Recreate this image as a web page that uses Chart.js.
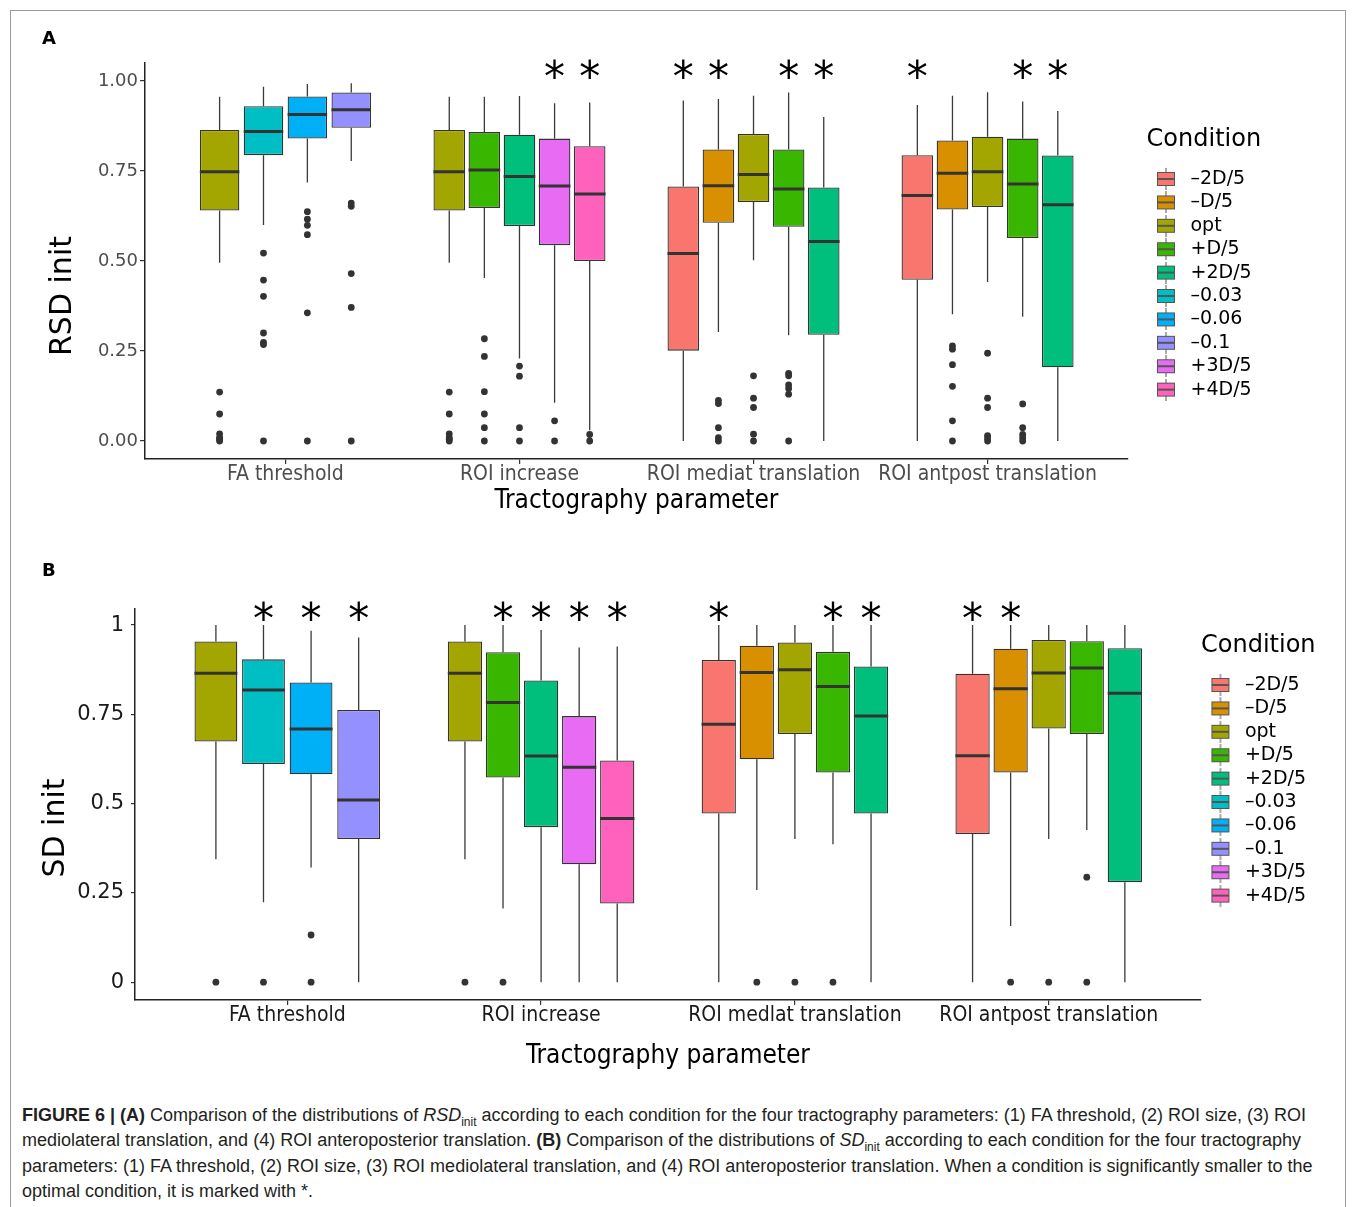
<!DOCTYPE html>
<html>
<head>
<meta charset="utf-8">
<script src="https://cdn.jsdelivr.net/npm/chart.js@4.4.1/dist/chart.umd.min.js"></script>
<style>
  html, body { margin: 0; padding: 0; background: #fff; }
  body { width: 1357px; height: 1207px; position: relative; overflow: hidden; }
  #frame { position: absolute; left: 10px; top: 10px; width: 1334px; height: 1230px; border: 1px solid #9a9a9a; }
  .tag { position: absolute; left: 42px; font: bold 18px 'DejaVu Sans', sans-serif; color: #000; z-index: 2; }
  canvas { position: absolute; left: 0; z-index: 1; }
  #caption { position: absolute; left: 22px; top: 1103px; font: 18px 'Liberation Sans', Arial, sans-serif;
             line-height: 25.3px; color: #231f20; white-space: nowrap; z-index: 2; }
  #caption sub { font-size: 12px; line-height: 0; }
</style>
</head>
<body>
<div id="frame"></div>
<div class="tag" style="top:27px">A</div>
<div class="tag" style="top:559px">B</div>
<canvas id="rsd" width="1357" height="530" style="top:0"></canvas>
<canvas id="sd" width="1357" height="545" style="top:530px"></canvas>
<div id="caption">
<b>FIGURE 6 | (A)</b> Comparison of the distributions of <i>RSD</i><sub>init</sub> according to each condition for the four tractography parameters: (1) FA threshold, (2) ROI size, (3) ROI<br>
mediolateral translation, and (4) ROI anteroposterior translation. <b>(B)</b> Comparison of the distributions of <i>SD</i><sub>init</sub> according to each condition for the four tractography<br>
parameters: (1) FA threshold, (2) ROI size, (3) ROI mediolateral translation, and (4) ROI anteroposterior translation. When a condition is significantly smaller to the<br>
optimal condition, it is marked with *.
</div>
<script>
const paramsRSD = ['FA threshold', 'ROI increase', 'ROI mediat translation', 'ROI antpost translation'];
const paramsSD = ['FA threshold', 'ROI increase', 'ROI medlat translation', 'ROI antpost translation'];
const conditions = ['–2D/5', '–D/5', 'opt', '+D/5', '+2D/5', '–0.03', '–0.06', '–0.1', '+3D/5', '+4D/5'];
const colors = ['#F8766D', '#D89000', '#A3A500', '#39B600', '#00BF7D', '#00BFC4', '#00B0F6', '#9590FF', '#E76BF3', '#FF62BC'];

// one [lower whisker, Q1, median, Q3, upper whisker] per parameter, null = condition not used
const rsdBoxes = [
  [null, null, [0, 0.251, 0.521, 0.707, 0.946], [0, 0.448, 0.682, 0.794, 0.933]],
  [null, null, [0.303, 0.606, 0.709, 0.810, 0.950], [0.352, 0.643, 0.744, 0.835, 0.959]],
  [[0.495, 0.640, 0.748, 0.864, 0.956], [0.495, 0.640, 0.748, 0.864, 0.956], [0.502, 0.664, 0.740, 0.853, 0.959], [0.442, 0.650, 0.748, 0.845, 0.969]],
  [null, [0.453, 0.647, 0.753, 0.858, 0.956], [0.294, 0.595, 0.700, 0.810, 0.968], [0.345, 0.564, 0.714, 0.840, 0.943]],
  [null, [0.229, 0.597, 0.735, 0.851, 0.958], [0, 0.295, 0.554, 0.704, 0.900], [0, 0.205, 0.656, 0.793, 0.917]],
  [[0.600, 0.794, 0.860, 0.930, 0.984], null, null, null],
  [[0.718, 0.840, 0.907, 0.957, 0.992], null, null, null],
  [[0.778, 0.870, 0.920, 0.968, 0.994], null, null, null],
  [null, [0.106, 0.544, 0.708, 0.840, 0.938], null, null],
  [null, [0.030, 0.500, 0.686, 0.819, 0.940], null, null]
];
const rsdOutliers = [
  [[], [], [], []],
  [[], [], [0.113, 0.104, 0.037, 0.009, 0], [0.264, 0.255, 0.212, 0.152, 0.056, 0]],
  [[0.136, 0.075, 0.020, 0.010, 0.005, 0], [0.136, 0.075, 0.020, 0.010, 0.005, 0], [0.181, 0.119, 0.093, 0.019, 0], [0.244, 0.119, 0.093, 0.015, 0.008, 0]],
  [[], [0.284, 0.235, 0.137, 0.075, 0.037, 0], [0.188, 0.181, 0.156, 0.146, 0.130, 0], [0.103, 0.037, 0.018, 0.009, 0]],
  [[], [0.208, 0.180, 0.037, 0], [], []],
  [[0.522, 0.447, 0.402, 0.300, 0.274, 0.268, 0], [], [], []],
  [[0.637, 0.616, 0.599, 0.573, 0.356, 0], [], [], []],
  [[0.661, 0.652, 0.465, 0.371, 0], [], [], []],
  [[], [0.056, 0], [], []],
  [[], [0.018, 0], [], []]
];
const rsdStars = [[], [8, 9], [0, 1, 3, 4], [0, 3, 4]];

const sdBoxes = [
  [null, null, [0, 0.472, 0.722, 0.902, 1], [0, 0.415, 0.634, 0.864, 1]],
  [null, null, [0.258, 0.624, 0.867, 0.942, 1], [0.157, 0.587, 0.822, 0.934, 1]],
  [[0.344, 0.674, 0.865, 0.954, 1], [0.344, 0.674, 0.865, 0.954, 1], [0.401, 0.695, 0.875, 0.951, 1], [0.401, 0.710, 0.866, 0.958, 1]],
  [null, [0.206, 0.573, 0.783, 0.924, 1], [0.386, 0.587, 0.828, 0.925, 1], [0.426, 0.695, 0.880, 0.955, 1]],
  [null, [0, 0.434, 0.633, 0.845, 0.986], [0, 0.472, 0.745, 0.884, 1], [0, 0.280, 0.809, 0.935, 1]],
  [[0.224, 0.611, 0.818, 0.904, 1], null, null, null],
  [[0.321, 0.582, 0.709, 0.839, 0.984], null, null, null],
  [[0, 0.401, 0.510, 0.762, 0.965], null, null, null],
  [null, [0, 0.330, 0.602, 0.745, 0.937], null, null],
  [null, [0, 0.220, 0.458, 0.621, 0.940], null, null]
];
const sdOutliers = [
  [[], [], [], []],
  [[], [], [0], [0]],
  [[0], [0], [0], [0]],
  [[], [0], [0], [0.294, 0]],
  [[], [], [], []],
  [[0], [], [], []],
  [[0.132, 0], [], [], []],
  [[], [], [], []],
  [[], [], [], []],
  [[], [], [], []]
];
const sdStars = [[5, 6, 7], [3, 4, 8, 9], [0, 3, 4], [0, 1]];

const yTicks = [0, 0.25, 0.5, 0.75, 1];
const yLabelsRSD = ['0.00', '0.25', '0.50', '0.75', '1.00'];
const yLabelsSD = ['0', '0.25', '0.5', '0.75', '1'];

Chart.defaults.font.family = "'DejaVu Sans', sans-serif";

// whiskers, medians, outlier dots and significance stars on top of the floating bars
const boxParts = {
  id: 'boxParts',
  beforeDatasetsDraw(chart, args, o) {
    const {ctx} = chart;
    const y = chart.scales.y;
    ctx.save();
    ctx.strokeStyle = '#3a3a3a';
    ctx.lineWidth = 1.3;
    o.boxes.forEach((cond, i) => {
      const bars = chart.getDatasetMeta(i).data;
      cond.forEach((b, j) => {
        if (!b) return;
        const x = bars[j].x;
        ctx.beginPath();
        ctx.moveTo(x, y.getPixelForValue(b[0]));
        ctx.lineTo(x, y.getPixelForValue(b[1]));
        ctx.moveTo(x, y.getPixelForValue(b[3]));
        ctx.lineTo(x, y.getPixelForValue(b[4]));
        ctx.stroke();
      });
    });
    ctx.restore();
  },
  afterDatasetsDraw(chart, args, o) {
    const {ctx} = chart;
    const y = chart.scales.y;
    ctx.save();
    o.boxes.forEach((cond, i) => {
      const bars = chart.getDatasetMeta(i).data;
      cond.forEach((b, j) => {
        if (!b) return;
        const bar = bars[j];
        ctx.strokeStyle = '#333';
        ctx.lineWidth = 3;
        ctx.beginPath();
        ctx.moveTo(bar.x - bar.width / 2, y.getPixelForValue(b[2]));
        ctx.lineTo(bar.x + bar.width / 2, y.getPixelForValue(b[2]));
        ctx.stroke();
        ctx.fillStyle = '#333';
        o.outliers[i][j].forEach(v => {
          ctx.beginPath();
          ctx.arc(bar.x, y.getPixelForValue(v), 3.4, 0, Math.PI * 2);
          ctx.fill();
        });
      });
    });
    ctx.font = '42px DejaVu Sans';
    ctx.fillStyle = '#000';
    ctx.textAlign = 'center';
    ctx.textBaseline = 'alphabetic';
    const m = ctx.measureText('*');
    const shift = (m.actualBoundingBoxAscent - m.actualBoundingBoxDescent) / 2;
    o.stars.forEach((list, j) => {
      list.forEach(i => {
        const bar = chart.getDatasetMeta(i).data[j];
        ctx.fillText('*', bar.x, y.getPixelForValue(o.starAt) + shift);
      });
    });
    ctx.restore();
  },
  afterDraw(chart, args, o) {
    const {ctx} = chart;
    ctx.save();
    ctx.translate(o.yTitle.x, o.yTitle.y);
    ctx.rotate(-Math.PI / 2);
    ctx.font = '30px DejaVu Sans';
    ctx.fillStyle = '#000';
    ctx.textAlign = 'center';
    ctx.textBaseline = 'middle';
    ctx.fillText(o.yTitle.text, 0, 0);
    ctx.restore();
  }
};

function glyph(color) {
  const c = document.createElement('canvas');
  c.width = 20;
  c.height = 22;
  const g = c.getContext('2d');
  g.strokeStyle = '#555';
  g.lineWidth = 1;
  g.beginPath();
  g.moveTo(10, 0); g.lineTo(10, 4);
  g.moveTo(10, 18); g.lineTo(10, 22);
  g.stroke();
  g.fillStyle = color;
  g.fillRect(1.5, 4.5, 17, 13);
  g.strokeRect(1.5, 4.5, 17, 13);
  g.lineWidth = 2;
  g.beginPath();
  g.moveTo(1.5, 11); g.lineTo(18.5, 11);
  g.stroke();
  return c;
}
const glyphs = colors.map(glyph);

function buildChart(id, p) {
  const datasets = conditions.map((c, i) => ({
    label: c,
    data: p.boxes[i].map((b, j) => ({x: j, y: b ? [b[1], b[3]] : null})),
    backgroundColor: colors[i],
    borderColor: '#333',
    borderWidth: 1.3,
    borderSkipped: false,
    categoryPercentage: 0.75,
    barPercentage: 0.9,
    skipNull: true
  }));
  const scales = {
    x: {
      type: 'linear', min: -0.6, max: 3.6, offset: false,
      afterBuildTicks: s => { s.ticks = p.params.map((n, k) => ({value: k})); },
      afterFit: s => { s.height = p.xHeight; },
      ticks: {
        callback: v => p.params[v], autoSkip: false, maxRotation: 0, padding: p.xPad,
        color: p.tickColor, font: {family: "'DejaVu Sans Condensed', 'Liberation Sans', sans-serif", size: 21}
      },
      grid: {offset: false, drawOnChartArea: false, drawTicks: true, tickLength: 5, color: '#333', lineWidth: 1.2},
      border: {display: true, color: '#222', width: 1.5},
      title: {
        display: true, text: 'Tractography parameter', color: '#000',
        font: {family: "'DejaVu Sans Condensed', 'Liberation Sans', sans-serif", size: 26},
        padding: {top: 0, bottom: p.titlePad}
      }
    },
    y: {
      type: 'linear', min: -0.05, max: p.yMax,
      afterBuildTicks: s => { s.ticks = yTicks.map(v => ({value: v})); },
      afterFit: s => { s.width = p.yWidth; },
      ticks: {callback: (v, k) => p.yLabels[k], padding: p.yPad, color: p.tickColor, font: {size: p.yFont}},
      grid: {drawOnChartArea: false, drawTicks: true, tickLength: p.yTick, color: '#333', lineWidth: 1.2},
      border: {display: true, color: '#222', width: 1.5}
    }
  };
  if (p.gap > 0) {
    scales.gap = {
      type: 'linear', position: 'right', display: true,
      ticks: {display: false}, grid: {display: false}, border: {display: false},
      afterFit: s => { s.width = p.gap; }
    };
  }
  const chart = new Chart(document.getElementById(id), {
    type: 'bar',
    data: {datasets},
    plugins: [boxParts],
    options: {
      responsive: false,
      animation: false,
      layout: {padding: {top: p.top, right: 100, bottom: 0, left: 0}},
      scales,
      plugins: {
        tooltip: {enabled: false},
        legend: {
          position: 'right', align: 'start', fullSize: false,
          title: {display: true, text: 'Condition', color: '#000', position: 'start',
                  font: {size: 24}, padding: {top: p.legendTop, bottom: 8.3}},
          labels: {
            usePointStyle: true, pointStyleWidth: 30, padding: 4.4, color: '#000', font: {size: 19},
            generateLabels: () => conditions.map((c, i) => ({
              text: c, pointStyle: glyphs[i], fillStyle: colors[i], strokeStyle: '#333',
              lineWidth: 0, hidden: false, datasetIndex: i, fontColor: '#000'
            }))
          }
        },
        boxParts: {boxes: p.boxes, outliers: p.outliers, stars: p.stars, starAt: p.starAt, yTitle: p.yTitle}
      }
    }
  });
  // put the legend's left edge where the plot area should end (plus gap)
  chart.options.layout.padding.right = chart.width - p.legendLeft - chart.legend.width;
  chart.update();
  return chart;
}

buildChart('rsd', {
  params: paramsRSD, boxes: rsdBoxes, outliers: rsdOutliers, stars: rsdStars, starAt: 1.033,
  yLabels: yLabelsRSD, yMax: 1.05, yFont: 18, yTick: 5, yPad: 2, yWidth: 145,
  xHeight: 71, xPad: -2, titlePad: 13, tickColor: '#4d4d4d',
  top: 63, gap: 18.6, legendLeft: 1146.6, legendTop: 65,
  yTitle: {text: 'RSD init', x: 63, y: 296}
});

buildChart('sd', {
  params: paramsSD, boxes: sdBoxes, outliers: sdOutliers, stars: sdStars, starAt: 1.039,
  yLabels: yLabelsSD, yMax: 1.045, yFont: 21, yTick: 4, yPad: 7, yWidth: 135,
  xHeight: 75, xPad: -2, titlePad: 3, tickColor: '#1a1a1a',
  top: 79, gap: 0, legendLeft: 1201, legendTop: 25,
  yTitle: {text: 'SD init', x: 56, y: 298}
});
</script>
</body>
</html>
